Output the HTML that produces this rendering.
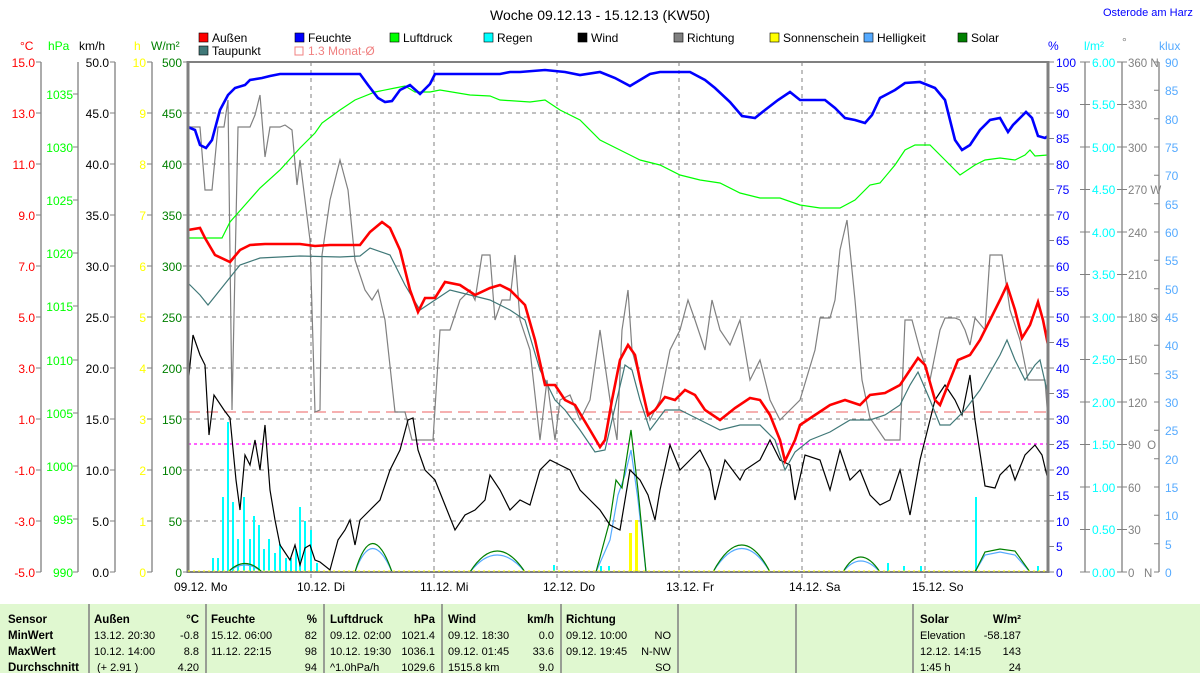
<!DOCTYPE html>
<html><head><meta charset="utf-8"><style>
html,body{margin:0;padding:0;background:#fff;width:1200px;height:673px;overflow:hidden}
svg{display:block;font-family:"Liberation Sans",sans-serif}
</style></head><body>
<svg width="1200" height="673" viewBox="0 0 1200 673" xmlns="http://www.w3.org/2000/svg">
<rect width="1200" height="673" fill="#fff"/>
<text x="600" y="20" font-size="14" text-anchor="middle" fill="#000">Woche 09.12.13 - 15.12.13 (KW50)</text>
<text x="1103" y="16" font-size="11" fill="#0000ff">Osterode am Harz</text>
<!-- legend -->
<g font-size="12" fill="#000">
<rect x="199" y="33" width="9" height="9" fill="#ff0000" stroke="#000" stroke-width="0.6"/><text x="212" y="42">Außen</text>
<rect x="295" y="33" width="9" height="9" fill="#0000ff" stroke="#000" stroke-width="0.6"/><text x="308" y="42">Feuchte</text>
<rect x="390" y="33" width="9" height="9" fill="#00ff00" stroke="#000" stroke-width="0.6"/><text x="403" y="42">Luftdruck</text>
<rect x="484" y="33" width="9" height="9" fill="#00ffff" stroke="#000" stroke-width="0.6"/><text x="497" y="42">Regen</text>
<rect x="578" y="33" width="9" height="9" fill="#000" stroke="#000" stroke-width="0.6"/><text x="591" y="42">Wind</text>
<rect x="674" y="33" width="9" height="9" fill="#808080" stroke="#000" stroke-width="0.6"/><text x="687" y="42">Richtung</text>
<rect x="770" y="33" width="9" height="9" fill="#ffff00" stroke="#000" stroke-width="0.6"/><text x="783" y="42">Sonnenschein</text>
<rect x="864" y="33" width="9" height="9" fill="#55aaff" stroke="#000" stroke-width="0.6"/><text x="877" y="42">Helligkeit</text>
<rect x="958" y="33" width="9" height="9" fill="#008000" stroke="#000" stroke-width="0.6"/><text x="971" y="42">Solar</text>
<rect x="199" y="46" width="9" height="9" fill="#407878" stroke="#000" stroke-width="0.6"/><text x="212" y="55">Taupunkt</text>
<rect x="295" y="47" width="8" height="8" fill="none" stroke="#f08080" stroke-width="1"/><text x="308" y="55" fill="#f08080">1.3 Monat-Ø</text>
</g>
<!-- axis unit labels -->
<g font-size="12">
<text x="20" y="50" fill="#ff0000">°C</text>
<text x="48" y="50" fill="#00ff00">hPa</text>
<text x="79" y="50" fill="#000">km/h</text>
<text x="134" y="50" fill="#ffff00">h</text>
<text x="151" y="50" fill="#008000">W/m²</text>
<text x="1048" y="50" fill="#0000ff">%</text>
<text x="1084" y="50" fill="#00ffff">l/m²</text>
<text x="1122" y="46" fill="#808080">°</text>
<text x="1159" y="50" fill="#55aaff">klux</text>
</g>
<!-- axis lines -->
<g stroke="#808080" stroke-width="1.3" fill="none">
<line x1="41" y1="62" x2="41" y2="572"/><line x1="78" y1="62" x2="78" y2="572"/>
<line x1="115" y1="62" x2="115" y2="572"/><line x1="152" y1="62" x2="152" y2="572"/>
<line x1="1085" y1="62" x2="1085" y2="572"/><line x1="1122" y1="62" x2="1122" y2="572"/>
<line x1="1159" y1="62" x2="1159" y2="572"/>
</g>
<!-- ticks and labels -->
<g font-size="12" id="ticks">
<g fill="#ff0000" text-anchor="end">
<text x="35" y="67">15.0</text><text x="35" y="118">13.0</text><text x="35" y="169">11.0</text><text x="35" y="220">9.0</text><text x="35" y="271">7.0</text><text x="35" y="322">5.0</text><text x="35" y="373">3.0</text><text x="35" y="424">1.0</text><text x="35" y="475">-1.0</text><text x="35" y="526">-3.0</text><text x="35" y="577">-5.0</text>
</g>
<g stroke="#808080"><path d="M36 62h5M36 113h5M36 164h5M36 215h5M36 266h5M36 317h5M36 368h5M36 419h5M36 470h5M36 521h5M36 572h5"/>
<path d="M73 94h5M73 147h5M73 200h5M73 253h5M73 306h5M73 360h5M73 413h5M73 466h5M73 519h5M73 572h5"/>
<path d="M110 62h5M110 113h5M110 164h5M110 215h5M110 266h5M110 317h5M110 368h5M110 419h5M110 470h5M110 521h5M110 572h5"/>
<path d="M147 62h5M147 113h5M147 164h5M147 215h5M147 266h5M147 317h5M147 368h5M147 419h5M147 470h5M147 521h5M147 572h5"/>
<path d="M183 62h5M183 113h5M183 164h5M183 215h5M183 266h5M183 317h5M183 368h5M183 419h5M183 470h5M183 521h5M183 572h5"/>
<path d="M1048 62h6M1048 87.5h6M1048 113h6M1048 138.5h6M1048 164h6M1048 189.5h6M1048 215h6M1048 240.5h6M1048 266h6M1048 291.5h6M1048 317h6M1048 342.5h6M1048 368h6M1048 393.5h6M1048 419h6M1048 444.5h6M1048 470h6M1048 495.5h6M1048 521h6M1048 546.5h6M1048 572h6"/>
<path d="M1080 62h10M1080 104.5h10M1080 147h10M1080 189.5h10M1080 232h10M1080 274.5h10M1080 317h10M1080 359.5h10M1080 402h10M1080 444.5h10M1080 487h10M1080 529.5h10M1080 572h10"/>
<path d="M1117 62h10M1117 104.5h10M1117 147h10M1117 189.5h10M1117 232h10M1117 274.5h10M1117 317h10M1117 359.5h10M1117 402h10M1117 444.5h10M1117 487h10M1117 529.5h10M1117 572h10"/>
<path d="M1154 62h5M1154 90.3h5M1154 118.7h5M1154 147h5M1154 175.3h5M1154 203.7h5M1154 232h5M1154 260.3h5M1154 288.7h5M1154 317h5M1154 345.3h5M1154 373.7h5M1154 402h5M1154 430.3h5M1154 458.7h5M1154 487h5M1154 515.3h5M1154 543.7h5M1154 572h5"/>
</g>
<g fill="#00ff00" text-anchor="end">
<text x="73" y="99">1035</text><text x="73" y="152">1030</text><text x="73" y="205">1025</text><text x="73" y="258">1020</text><text x="73" y="311">1015</text><text x="73" y="365">1010</text><text x="73" y="418">1005</text><text x="73" y="471">1000</text><text x="73" y="524">995</text><text x="73" y="577">990</text>
</g>
<g fill="#000" text-anchor="end">
<text x="109" y="67">50.0</text><text x="109" y="118">45.0</text><text x="109" y="169">40.0</text><text x="109" y="220">35.0</text><text x="109" y="271">30.0</text><text x="109" y="322">25.0</text><text x="109" y="373">20.0</text><text x="109" y="424">15.0</text><text x="109" y="475">10.0</text><text x="109" y="526">5.0</text><text x="109" y="577">0.0</text>
</g>
<g fill="#ffff00" text-anchor="end">
<text x="146" y="67">10</text><text x="146" y="118">9</text><text x="146" y="169">8</text><text x="146" y="220">7</text><text x="146" y="271">6</text><text x="146" y="322">5</text><text x="146" y="373">4</text><text x="146" y="424">3</text><text x="146" y="475">2</text><text x="146" y="526">1</text><text x="146" y="577">0</text>
</g>
<g fill="#008000" text-anchor="end">
<text x="182" y="67">500</text><text x="182" y="118">450</text><text x="182" y="169">400</text><text x="182" y="220">350</text><text x="182" y="271">300</text><text x="182" y="322">250</text><text x="182" y="373">200</text><text x="182" y="424">150</text><text x="182" y="475">100</text><text x="182" y="526">50</text><text x="182" y="577">0</text>
</g>
<g fill="#0000ff">
<text x="1056" y="67">100</text><text x="1056" y="92">95</text><text x="1056" y="118">90</text><text x="1056" y="143">85</text><text x="1056" y="169">80</text><text x="1056" y="194">75</text><text x="1056" y="220">70</text><text x="1056" y="245">65</text><text x="1056" y="271">60</text><text x="1056" y="296">55</text><text x="1056" y="322">50</text><text x="1056" y="347">45</text><text x="1056" y="373">40</text><text x="1056" y="398">35</text><text x="1056" y="424">30</text><text x="1056" y="449">25</text><text x="1056" y="475">20</text><text x="1056" y="500">15</text><text x="1056" y="526">10</text><text x="1056" y="551">5</text><text x="1056" y="577">0</text>
</g>
<g fill="#00ffff">
<text x="1092" y="67">6.00</text><text x="1092" y="109">5.50</text><text x="1092" y="152">5.00</text><text x="1092" y="194">4.50</text><text x="1092" y="237">4.00</text><text x="1092" y="279">3.50</text><text x="1092" y="322">3.00</text><text x="1092" y="364">2.50</text><text x="1092" y="407">2.00</text><text x="1092" y="449">1.50</text><text x="1092" y="492">1.00</text><text x="1092" y="534">0.50</text><text x="1092" y="577">0.00</text>
</g>
<g fill="#808080" font-size="11.5">
<text x="1128" y="67">360 N</text><text x="1128" y="109">330</text><text x="1128" y="152">300</text><text x="1128" y="194">270 W</text><text x="1128" y="237">240</text><text x="1128" y="279">210</text><text x="1128" y="322">180 S</text><text x="1128" y="364">150</text><text x="1128" y="407">120</text><text x="1128" y="449">90 &#160;O</text><text x="1128" y="492">60</text><text x="1128" y="534">30</text><text x="1128" y="577">0 &#160;&#160;N</text>
</g>
<g fill="#55aaff">
<text x="1165" y="67">90</text><text x="1165" y="95">85</text><text x="1165" y="124">80</text><text x="1165" y="152">75</text><text x="1165" y="180">70</text><text x="1165" y="209">65</text><text x="1165" y="237">60</text><text x="1165" y="265">55</text><text x="1165" y="294">50</text><text x="1165" y="322">45</text><text x="1165" y="350">40</text><text x="1165" y="379">35</text><text x="1165" y="407">30</text><text x="1165" y="435">25</text><text x="1165" y="464">20</text><text x="1165" y="492">15</text><text x="1165" y="520">10</text><text x="1165" y="549">5</text><text x="1165" y="577">0</text>
</g>
</g>
<!-- grid -->
<g stroke="#808080" stroke-width="1" stroke-dasharray="4,4" fill="none">
<path d="M188 113H1048M188 164H1048M188 215H1048M188 266H1048M188 317H1048M188 368H1048M188 419H1048M188 470H1048M188 521H1048"/>
<path d="M311 62V578M434 62V578M557 62V578M679 62V578M802 62V578M925 62V578"/>
</g>
<!-- x labels -->
<g font-size="12" fill="#000">
<text x="174" y="591">09.12.  Mo</text><text x="297" y="591">10.12.  Di</text><text x="420" y="591">11.12.  Mi</text><text x="543" y="591">12.12.  Do</text><text x="666" y="591">13.12.  Fr</text><text x="789" y="591">14.12.  Sa</text><text x="912" y="591">15.12.  So</text>
</g>
<!-- reference lines -->
<line x1="188" y1="412" x2="1048" y2="412" stroke="#f08080" stroke-width="1.2" stroke-dasharray="12,6"/>
<line x1="188" y1="444" x2="1048" y2="444" stroke="#ff00ff" stroke-width="1.2" stroke-dasharray="3,3"/>
<!-- rain bars -->
<g fill="#00ffff">
<rect x="212" y="558" width="2" height="14"/><rect x="217" y="558" width="2" height="14"/><rect x="222" y="497" width="2" height="75"/><rect x="227" y="422" width="2" height="150"/><rect x="232" y="502" width="2" height="70"/><rect x="237" y="539" width="2" height="33"/><rect x="243" y="497" width="2" height="75"/><rect x="249" y="539" width="2" height="33"/><rect x="253" y="516" width="2" height="56"/><rect x="258" y="525" width="2" height="47"/><rect x="263" y="549" width="2" height="23"/><rect x="268" y="539" width="2" height="33"/><rect x="274" y="553" width="2" height="19"/><rect x="279" y="544" width="2" height="28"/><rect x="285" y="558" width="2" height="14"/><rect x="290" y="558" width="2" height="14"/><rect x="295" y="549" width="2" height="23"/><rect x="299" y="507" width="2" height="65"/><rect x="304" y="521" width="2" height="51"/><rect x="310" y="530" width="2" height="42"/><rect x="316" y="563" width="2" height="9"/>
<rect x="553" y="565" width="2" height="7"/><rect x="600" y="566" width="2" height="6"/><rect x="608" y="566" width="2" height="6"/><rect x="887" y="563" width="2" height="9"/><rect x="903" y="566" width="2" height="6"/><rect x="975" y="497" width="2" height="75"/><rect x="1037" y="566" width="2" height="6"/><rect x="920" y="566" width="2" height="6"/>
</g>
<!-- sunshine -->
<g fill="#ffff00"><rect x="629" y="533" width="3" height="39"/><rect x="635" y="520" width="3" height="52"/></g>
<!-- solar / helligkeit -->
<g fill="none" stroke-width="1.2">
<path stroke="#55aaff" d="M228 572 Q245 558 262 572 M355 572 Q372 525 392 572 M470 572 Q497 538 525 572 M596 572 L610 540 L618 495 L625 475 L631 450 L638 500 L646 572 M713 572 Q742 525 770 572 M843 572 Q860 550 880 572 M975 572 L985 555 L1000 552 L1015 555 L1030 572"/>
<path stroke="#008000" d="M228 572 Q245 555 262 572 M355 572 Q372 515 392 572 M470 572 Q497 530 525 572 M596 572 L610 520 L616 480 L622 488 L631 430 L638 490 L646 572 M713 572 Q742 518 770 572 M843 572 Q860 542 880 572 M975 572 L985 552 L1000 549 L1015 551 L1030 572"/>
</g>
<!-- richtung -->
<polyline fill="none" stroke="#808080" stroke-width="1.2" points="188,127 200,127 205,190 212,190 218,127 224,127 228,100 232,410 238,127 250,127 255,115 260,95 265,157 270,127 280,127 285,125 292,130 297,185 300,160 305,200 310,240 315,412 320,410 322,255 330,200 340,160 348,190 355,260 365,290 372,300 378,290 385,320 395,412 405,412 412,440 433,440 440,330 450,330 460,300 470,290 475,300 482,255 490,255 495,320 502,300 510,300 515,255 520,320 530,350 540,440 547,380 555,440 560,400 570,395 580,420 590,400 600,330 610,400 617,440 622,330 628,290 632,350 640,380 650,420 660,400 670,350 680,330 688,300 695,320 705,350 712,300 720,330 730,345 740,320 750,380 760,360 770,400 780,420 790,410 800,400 815,350 820,318 830,318 835,300 840,250 847,220 855,300 862,380 870,418 885,440 900,440 905,320 912,320 920,350 930,380 940,330 945,318 955,318 960,320 965,330 970,345 975,318 985,330 990,255 1002,255 1010,310 1020,340 1028,380 1045,380 1048,420"/>
<!-- wind -->
<polyline fill="none" stroke="#000" stroke-width="1.2" points="188,385 193,335 200,355 205,365 209,435 214,395 224,410 230,418 236,480 240,510 245,455 250,465 255,440 260,470 265,425 270,490 275,520 280,545 290,560 295,545 300,565 305,548 310,545 315,560 320,562 330,570 338,540 345,530 350,520 355,545 360,520 370,510 380,500 390,470 400,450 408,420 413,418 418,450 425,470 435,480 445,505 455,530 465,515 475,510 485,500 490,475 500,490 510,510 520,500 530,505 540,470 550,460 560,465 570,470 580,490 590,500 600,510 610,525 620,530 630,470 640,480 648,495 655,520 660,490 670,445 680,470 690,460 700,450 710,470 715,500 725,460 740,480 745,470 760,460 770,440 780,460 790,465 795,500 805,455 820,460 830,490 840,450 850,480 860,470 870,495 880,505 890,500 900,470 910,515 920,460 930,420 935,400 945,385 955,400 962,415 970,375 975,420 985,486 995,488 1000,475 1010,465 1015,480 1025,455 1035,445 1042,455 1048,480"/>
<!-- luftdruck -->
<polyline fill="none" stroke="#00ff00" stroke-width="1.2" points="188,238 222,238 230,222 245,205 260,188 280,170 300,148 315,133 322,123 340,110 355,100 375,92 395,88 405,86 415,92 430,92 440,90 470,95 490,96 500,100 530,102 545,100 560,110 580,120 600,140 620,150 640,160 660,165 680,175 700,180 720,183 740,193 760,198 780,198 800,205 820,208 840,208 855,200 870,185 880,183 895,165 905,150 915,145 930,145 945,160 960,175 975,165 985,160 1000,158 1015,160 1025,155 1030,150 1035,156 1048,155"/>
<!-- taupunkt -->
<polyline fill="none" stroke="#407878" stroke-width="1.2" points="188,283 200,295 208,305 220,290 240,265 260,258 300,256 340,257 360,256 370,248 390,255 405,285 420,310 435,300 450,290 470,295 490,300 510,310 525,320 540,370 555,400 565,410 580,430 595,452 605,450 612,420 625,365 632,370 640,400 650,430 665,410 680,410 700,420 720,430 740,425 760,425 775,440 785,470 795,452 810,440 830,432 850,420 870,420 885,415 900,405 910,385 918,372 930,400 940,425 950,425 965,410 980,390 1000,355 1007,340 1015,360 1025,380 1035,365 1040,360 1048,395"/>
<!-- aussen -->
<polyline fill="none" stroke="#ff0000" stroke-width="2.6" points="188,230 200,228 205,238 215,255 230,262 240,250 250,245 265,244 300,244 315,246 330,245 360,245 370,232 382,222 390,228 400,250 410,290 418,312 425,298 435,298 445,282 460,285 475,295 490,288 500,285 510,290 525,305 535,340 545,385 555,385 565,400 575,405 590,430 600,447 605,440 612,400 620,360 628,345 635,355 640,380 648,415 655,410 665,397 675,400 685,390 695,395 705,410 720,420 735,408 750,398 760,400 770,415 780,440 785,461 795,440 800,425 815,415 830,405 845,400 860,405 870,395 885,393 900,385 910,370 918,358 925,365 935,400 940,405 948,385 958,360 970,355 980,340 990,320 1000,300 1007,285 1015,310 1022,338 1030,325 1038,302 1043,320 1048,345"/>
<!-- feuchte -->
<polyline fill="none" stroke="#0000ff" stroke-width="2.6" points="188,127 195,130 200,145 206,148 212,140 220,110 228,95 235,88 245,85 250,80 262,78 270,76 280,74 300,74 360,74 368,85 378,98 385,102 392,101 400,90 410,85 420,94 430,84 435,74 500,74 510,72 520,72 545,70 565,72 580,75 600,72 615,78 630,86 640,80 650,74 660,72 690,72 705,80 715,88 730,102 742,116 755,118 765,110 778,100 790,92 800,100 825,100 835,108 845,118 855,120 865,123 872,115 880,98 895,90 905,83 920,82 935,88 945,100 955,140 962,150 970,145 980,130 990,120 1000,118 1008,132 1013,125 1020,118 1026,112 1032,118 1038,136 1045,138 1048,136"/>
<!-- plot border -->
<g stroke="#808080" fill="none">
<line x1="188" y1="62" x2="1048" y2="62" stroke-width="2"/>
<line x1="188" y1="572" x2="1048" y2="572" stroke-width="2"/>
<line x1="188" y1="61" x2="188" y2="573" stroke-width="3"/>
<line x1="1048" y1="61" x2="1048" y2="573" stroke-width="3"/>
</g>
<line x1="188" y1="571" x2="1048" y2="571" stroke="#ffff00" stroke-width="1" stroke-dasharray="2,3"/>
<!-- table -->
<rect x="0" y="604" width="1200" height="69" fill="#e0f8d0"/>
<g stroke="#808080" stroke-width="1.5">
<path d="M89 604V673M206 604V673M324 604V673M442 604V673M561 604V673M678 604V673M796 604V673M913 604V673"/>
</g>
<g font-size="11.5" fill="#000">
<g font-weight="bold">
<text x="8" y="623">Sensor</text><text x="8" y="639">MinWert</text><text x="8" y="655">MaxWert</text><text x="8" y="671">Durchschnitt</text>
<text x="94" y="623">Außen</text><text x="199" y="623" text-anchor="end">°C</text>
<text x="211" y="623">Feuchte</text><text x="317" y="623" text-anchor="end">%</text>
<text x="330" y="623">Luftdruck</text><text x="435" y="623" text-anchor="end">hPa</text>
<text x="448" y="623">Wind</text><text x="554" y="623" text-anchor="end">km/h</text>
<text x="566" y="623">Richtung</text>
<text x="920" y="623">Solar</text><text x="1021" y="623" text-anchor="end">W/m²</text>
</g>
<g font-size="11">
<text x="94" y="639">13.12.  20:30</text><text x="199" y="639" text-anchor="end">-0.8</text>
<text x="94" y="655">10.12.  14:00</text><text x="199" y="655" text-anchor="end">8.8</text>
<text x="97" y="671">(+ 2.91 )</text><text x="199" y="671" text-anchor="end">4.20</text>
<text x="211" y="639">15.12.  06:00</text><text x="317" y="639" text-anchor="end">82</text>
<text x="211" y="655">11.12.  22:15</text><text x="317" y="655" text-anchor="end">98</text>
<text x="317" y="671" text-anchor="end">94</text>
<text x="330" y="639">09.12.  02:00</text><text x="435" y="639" text-anchor="end">1021.4</text>
<text x="330" y="655">10.12.  19:30</text><text x="435" y="655" text-anchor="end">1036.1</text>
<text x="330" y="671">^1.0hPa/h</text><text x="435" y="671" text-anchor="end">1029.6</text>
<text x="448" y="639">09.12.  18:30</text><text x="554" y="639" text-anchor="end">0.0</text>
<text x="448" y="655">09.12.  01:45</text><text x="554" y="655" text-anchor="end">33.6</text>
<text x="448" y="671">1515.8 km</text><text x="554" y="671" text-anchor="end">9.0</text>
<text x="566" y="639">09.12.  10:00</text><text x="671" y="639" text-anchor="end">NO</text>
<text x="566" y="655">09.12.  19:45</text><text x="671" y="655" text-anchor="end">N-NW</text>
<text x="671" y="671" text-anchor="end">SO</text>
<text x="920" y="639">Elevation</text><text x="1021" y="639" text-anchor="end">-58.187</text>
<text x="920" y="655">12.12.  14:15</text><text x="1021" y="655" text-anchor="end">143</text>
<text x="920" y="671">1:45 h</text><text x="1021" y="671" text-anchor="end">24</text>
</g>
</g>
</svg>
</body></html>
